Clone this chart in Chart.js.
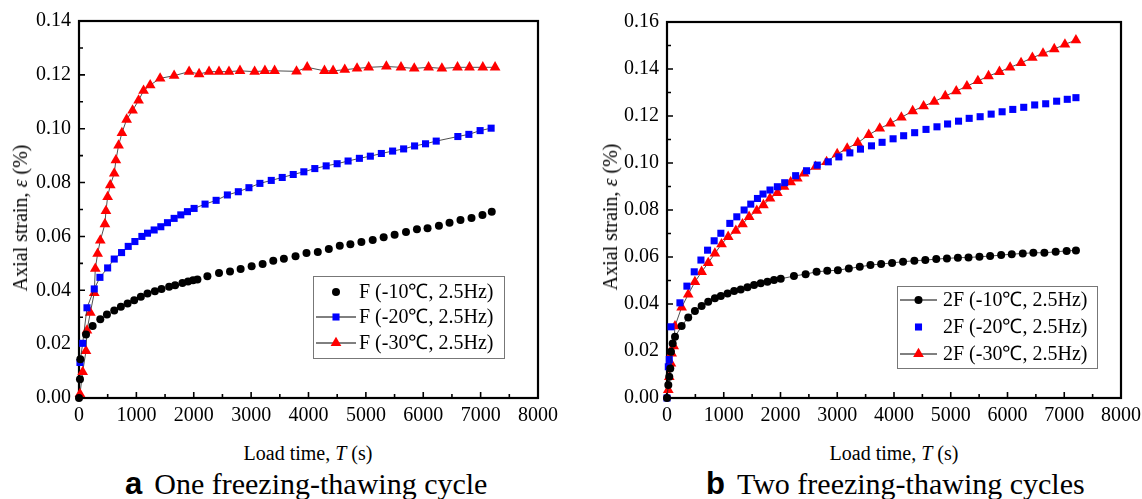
<!DOCTYPE html>
<html>
<head>
<meta charset="utf-8">
<script src="https://cdn.jsdelivr.net/npm/chart.js@4.4.1/dist/chart.umd.min.js"></script>
<style>
  html, body { margin: 0; padding: 0; background: #fff; }
  body { width: 1142px; height: 499px; position: relative; overflow: hidden; font-family: 'Liberation Serif', 'Times New Roman', serif; color: #000; }
  canvas { position: absolute; top: 0; }
  .t { position: absolute; white-space: nowrap; line-height: 1; }
  .xt { font-size: 20px; transform: translate(-50%, -50%); }
  .yt { font-size: 20px; transform: translate(-50%, -50%) rotate(-90deg); }
  .cap { font-size: 30px; }
  .cap b { font-family: 'Liberation Sans', Arial, sans-serif; font-weight: bold; font-size: 31px; margin-right: 12px; }
</style>
</head>
<body>
<canvas id="cA" width="571" height="440" style="left:0px"></canvas>
<canvas id="cB" width="571" height="440" style="left:571px"></canvas>

<div class="t xt" style="left:308px; top:453px;">Load time, <i>T</i> (s)</div>
<div class="t yt" style="left:20px; top:218px;">Axial strain, <i>ε</i> (%)</div>
<div class="t xt" style="left:894px; top:453px;">Load time, <i>T</i> (s)</div>
<div class="t yt" style="left:610px; top:217px;">Axial strain, <i>ε</i> (%)</div>
<div class="t cap" style="left:125px; top:468px;"><b>a</b>One freezing-thawing cycle</div>
<div class="t cap" style="left:706px; top:468px;"><b>b</b>Two freezing-thawing cycles</div>

<script>
// ---------- Tick labels ----------
const xTicks = [0, 1000, 2000, 3000, 4000, 5000, 6000, 7000, 8000];
const yTicksA = [0, 0.02, 0.04, 0.06, 0.08, 0.10, 0.12, 0.14];
const yTicksB = [0, 0.02, 0.04, 0.06, 0.08, 0.10, 0.12, 0.14, 0.16];

// ---------- Chart a: one freezing-thawing cycle ----------
const labelsA = ['F (-10℃, 2.5Hz)', 'F (-20℃, 2.5Hz)', 'F (-30℃, 2.5Hz)'];
const timeA10 = [0, 17, 23, 122, 238, 371, 487, 614, 730, 847, 962, 1078, 1194, 1322, 1438, 1571, 1675, 1803, 1901, 1988, 2064, 2238, 2440, 2632, 2817, 3009, 3200, 3386, 3571, 3774, 3965, 4162, 4354, 4545, 4730, 4922, 5119, 5310, 5501, 5699, 5890, 6075, 6273, 6458, 6649, 6841, 7032, 7194];
const strainA10 = [0, 0.007, 0.0144, 0.0236, 0.0267, 0.0292, 0.031, 0.0325, 0.0339, 0.0351, 0.0363, 0.0376, 0.0388, 0.0396, 0.0405, 0.0413, 0.0419, 0.0427, 0.0433, 0.0437, 0.044, 0.0452, 0.0464, 0.047, 0.0479, 0.0489, 0.0498, 0.051, 0.0517, 0.0526, 0.0538, 0.0542, 0.0553, 0.0565, 0.0571, 0.0579, 0.0587, 0.0597, 0.0606, 0.0616, 0.0627, 0.063, 0.064, 0.0651, 0.0661, 0.0668, 0.068, 0.0692];
const timeA20 = [17, 64, 139, 266, 365, 499, 614, 742, 858, 974, 1096, 1194, 1310, 1426, 1542, 1658, 1774, 1890, 2006, 2197, 2390, 2586, 2777, 2962, 3153, 3351, 3542, 3734, 3919, 4110, 4308, 4499, 4690, 4887, 5078, 5270, 5466, 5658, 5849, 6040, 6226, 6603, 6795, 6991, 7183];
const strainA20 = [0.0132, 0.0203, 0.0335, 0.0405, 0.0448, 0.0483, 0.0516, 0.054, 0.0563, 0.0581, 0.06, 0.0612, 0.0624, 0.0636, 0.0651, 0.0667, 0.068, 0.0692, 0.0704, 0.072, 0.0734, 0.0754, 0.0766, 0.0781, 0.0797, 0.0808, 0.0819, 0.083, 0.084, 0.0852, 0.0862, 0.087, 0.088, 0.089, 0.0898, 0.0908, 0.0917, 0.0925, 0.0936, 0.0944, 0.0954, 0.0971, 0.0979, 0.0993, 0.1002];
const timeA30 = [17, 64, 122, 139, 197, 266, 284, 325, 371, 452, 470, 499, 545, 614, 643, 690, 748, 830, 934, 1038, 1125, 1241, 1414, 1658, 1919, 2093, 2267, 2440, 2614, 2806, 3061, 3240, 3409, 3791, 3977, 4278, 4429, 4632, 4846, 5049, 5357, 5612, 5843, 6093, 6325, 6597, 6806, 7038, 7252];
const strainA30 = [0.0015, 0.0097, 0.0175, 0.0251, 0.0317, 0.039, 0.048, 0.0536, 0.0585, 0.0646, 0.0695, 0.0747, 0.079, 0.0834, 0.0883, 0.0938, 0.0984, 0.1034, 0.1068, 0.1105, 0.1141, 0.1162, 0.1187, 0.1197, 0.1212, 0.1203, 0.1212, 0.1212, 0.1212, 0.1215, 0.1212, 0.1215, 0.1215, 0.1213, 0.1228, 0.1215, 0.1215, 0.1219, 0.1224, 0.1228, 0.1231, 0.1228, 0.1224, 0.1228, 0.1224, 0.1228, 0.1228, 0.1228, 0.1228];

// ---------- Chart b: two freezing-thawing cycles ----------
const labelsB = ['2F (-10℃, 2.5Hz)', '2F (-20℃, 2.5Hz)', '2F (-30℃, 2.5Hz)'];
const timeB10 = [0, 23, 40, 58, 70, 100, 141, 258, 374, 492, 610, 726, 844, 949, 1067, 1183, 1300, 1418, 1534, 1652, 1770, 1886, 2004, 2237, 2443, 2636, 2824, 3011, 3204, 3397, 3585, 3773, 3966, 4160, 4359, 4552, 4745, 4933, 5126, 5313, 5506, 5694, 5888, 6075, 6269, 6456, 6650, 6849, 7042, 7206];
const strainB10 = [0, 0.0055, 0.009, 0.0126, 0.0197, 0.0232, 0.0261, 0.0306, 0.0343, 0.037, 0.0391, 0.041, 0.0424, 0.0434, 0.0445, 0.0455, 0.0462, 0.0471, 0.0481, 0.0488, 0.0495, 0.0502, 0.0507, 0.0519, 0.0527, 0.0537, 0.0541, 0.0544, 0.0551, 0.0558, 0.0566, 0.057, 0.0575, 0.058, 0.0584, 0.0587, 0.0591, 0.0594, 0.0597, 0.0598, 0.0601, 0.0604, 0.0608, 0.0612, 0.0615, 0.0618, 0.0618, 0.0622, 0.0626, 0.0628];
const timeB20 = [0, 23, 40, 70, 228, 351, 480, 598, 715, 831, 949, 1107, 1230, 1359, 1476, 1594, 1692, 1815, 1945, 2074, 2267, 2460, 2648, 2842, 3028, 3222, 3409, 3603, 3790, 3984, 4170, 4364, 4564, 4757, 4944, 5137, 5325, 5518, 5712, 5905, 6093, 6286, 6479, 6673, 6866, 7053, 7206];
const strainB20 = [0, 0.0133, 0.0164, 0.0303, 0.0405, 0.0476, 0.0537, 0.0587, 0.0629, 0.0669, 0.0701, 0.0743, 0.0771, 0.08, 0.0825, 0.0849, 0.0868, 0.0885, 0.0899, 0.0916, 0.0946, 0.0967, 0.0991, 0.1005, 0.1026, 0.1043, 0.1059, 0.1073, 0.1088, 0.1103, 0.1116, 0.1129, 0.1143, 0.1154, 0.1166, 0.1178, 0.119, 0.1197, 0.1208, 0.1218, 0.1228, 0.1237, 0.1247, 0.1252, 0.1263, 0.1271, 0.1278];
const timeB30 = [23, 40, 70, 82, 117, 141, 258, 374, 492, 610, 726, 844, 961, 1078, 1213, 1330, 1447, 1582, 1699, 1815, 1945, 2062, 2179, 2297, 2414, 2619, 2812, 2999, 3175, 3362, 3555, 3749, 3937, 4130, 4329, 4522, 4710, 4903, 5097, 5285, 5478, 5666, 5858, 6046, 6239, 6438, 6626, 6824, 7012, 7206];
const strainB30 = [0.0034, 0.009, 0.0147, 0.019, 0.0221, 0.0306, 0.0386, 0.0441, 0.0494, 0.0537, 0.0575, 0.0615, 0.0655, 0.0686, 0.0712, 0.074, 0.0771, 0.0797, 0.0821, 0.0849, 0.0873, 0.0899, 0.0918, 0.0934, 0.0956, 0.0984, 0.1005, 0.1038, 0.1062, 0.1086, 0.112, 0.1147, 0.1169, 0.1194, 0.1221, 0.1242, 0.1261, 0.1285, 0.1306, 0.1327, 0.1349, 0.137, 0.1388, 0.1407, 0.1426, 0.1448, 0.1466, 0.1485, 0.1505, 0.1523];

const pts = (xs, ys) => xs.map((t, i) => ({ x: t, y: ys[i] }));

const FONT = "'Liberation Serif', 'Times New Roman', serif";
Chart.defaults.font.family = FONT;
Chart.defaults.color = '#000';

// Frame + inward ticks (major + minor)
const frameTicks = {
  id: 'frameTicks',
  beforeDatasetsDraw(chart, args, o) {
    const { ctx, chartArea: a, scales: { x, y } } = chart;
    ctx.save();
    ctx.strokeStyle = '#000';
    ctx.lineWidth = 1.6;
    ctx.beginPath();
    const xs = o.xTicks;
    for (let i = 0; i < xs.length; i++) {
      const px = x.getPixelForValue(xs[i]);
      ctx.moveTo(px, a.bottom); ctx.lineTo(px, a.bottom - 6);
      if (i < xs.length - 1) {
        const pm = x.getPixelForValue((xs[i] + xs[i + 1]) / 2);
        ctx.moveTo(pm, a.bottom); ctx.lineTo(pm, a.bottom - 4);
      }
    }
    const ys = o.yTicks;
    for (let i = 0; i < ys.length; i++) {
      const py = y.getPixelForValue(ys[i]);
      ctx.moveTo(a.left, py); ctx.lineTo(a.left + 6, py);
      if (i < ys.length - 1) {
        const pm = y.getPixelForValue((ys[i] + ys[i + 1]) / 2);
        ctx.moveTo(a.left, pm); ctx.lineTo(a.left + 4, pm);
      }
    }
    ctx.stroke();
    ctx.lineWidth = 2.2;
    ctx.strokeRect(a.left, a.top, a.right - a.left, a.bottom - a.top);
    ctx.restore();
  }
};

function drawMarker(ctx, style, r, x, y, color) {
  ctx.fillStyle = color;
  ctx.beginPath();
  if (style === 'circle') {
    ctx.arc(x, y, r, 0, Math.PI * 2);
  } else if (style === 'rect') {
    const s = Math.SQRT1_2 * r;
    ctx.rect(x - s, y - s, 2 * s, 2 * s);
  } else if (style === 'triangle') {
    ctx.moveTo(x, y - r);
    ctx.lineTo(x + Math.sin(2 * Math.PI / 3) * r, y + r / 2);
    ctx.lineTo(x - Math.sin(2 * Math.PI / 3) * r, y + r / 2);
    ctx.closePath();
  }
  ctx.fill();
}

// Custom boxed legend placed inside the plot
const boxLegend = {
  id: 'boxLegend',
  afterDraw(chart, args, o) {
    const { ctx } = chart;
    ctx.save();
    ctx.fillStyle = '#fff';
    ctx.fillRect(o.x, o.y, o.w, o.h);
    ctx.strokeStyle = '#777';
    ctx.lineWidth = 1;
    ctx.strokeRect(o.x + 0.5, o.y + 0.5, o.w, o.h);
    chart.data.datasets.forEach((ds, i) => {
      const cy = o.rows[i];
      if (ds.showLine) {
        ctx.strokeStyle = '#000';
        ctx.lineWidth = 1;
        ctx.beginPath();
        ctx.moveTo(o.lx0, cy); ctx.lineTo(o.lx1, cy);
        ctx.stroke();
      }
      drawMarker(ctx, ds.pointStyle, ds.pointRadius, (o.lx0 + o.lx1) / 2, cy, ds.pointBackgroundColor);
      ctx.fillStyle = '#000';
      ctx.font = '20px ' + FONT;
      ctx.textBaseline = 'middle';
      ctx.textAlign = 'left';
      ctx.fillText(ds.label, o.tx, cy + 1);
    });
    ctx.restore();
  }
};

function mkDataset(label, xs, ys, style, r, color, line) {
  return {
    label, data: pts(xs, ys), showLine: line,
    borderColor: '#222', borderWidth: 0.8,
    pointStyle: style, pointRadius: r, pointHoverRadius: r,
    pointBackgroundColor: color, pointBorderColor: color, pointBorderWidth: 0,
    clip: false
  };
}

function mkOptions(cfg) {
  return {
    responsive: false, animation: false, devicePixelRatio: 1,
    layout: { padding: { left: 0, right: cfg.padRight, top: cfg.padTop, bottom: 0 } },
    plugins: {
      legend: { display: false }, tooltip: { enabled: false },
      frameTicks: { xTicks: xTicks, yTicks: cfg.yTicks },
      boxLegend: cfg.legend
    },
    scales: {
      x: {
        type: 'linear', min: 0, max: 8000,
        grid: { display: false, drawTicks: false }, border: { display: false },
        afterBuildTicks: s => { s.ticks = xTicks.map(v => ({ value: v })); },
        ticks: { padding: 6, font: { size: 20, family: FONT }, color: '#000', maxRotation: 0, callback: v => String(v) },
        afterFit: s => { s.height = cfg.xHeight; s.paddingLeft = 0; s.paddingRight = 0; }
      },
      y: {
        type: 'linear', min: 0, max: cfg.yMax,
        grid: { display: false, drawTicks: false }, border: { display: false },
        afterBuildTicks: s => { s.ticks = cfg.yTicks.map(v => ({ value: v })); },
        ticks: { padding: 8, font: { size: 20, family: FONT }, color: '#000', callback: v => Number(v).toFixed(2) },
        afterFit: s => { s.width = cfg.yWidth; s.paddingTop = 0; s.paddingBottom = 0; }
      }
    }
  };
}

new Chart(document.getElementById('cA'), {
  type: 'scatter',
  data: {
    datasets: [
      mkDataset(labelsA[0], timeA10, strainA10, 'circle', 4, '#000000', false),
      mkDataset(labelsA[1], timeA20, strainA20, 'rect', 5, '#0000ff', true),
      mkDataset(labelsA[2], timeA30, strainA30, 'triangle', 6.2, '#ff0000', true)
    ]
  },
  options: mkOptions({
    padRight: 33, padTop: 21, xHeight: 42, yWidth: 79, yMax: 0.14, yTicks: yTicksA,
    legend: { x: 313, y: 276, w: 191, h: 82, rows: [292, 317, 343], lx0: 316, lx1: 356, tx: 359 }
  }),
  plugins: [frameTicks, boxLegend]
});

new Chart(document.getElementById('cB'), {
  type: 'scatter',
  data: {
    datasets: [
      mkDataset(labelsB[0], timeB10, strainB10, 'circle', 4, '#000000', true),
      mkDataset(labelsB[1], timeB20, strainB20, 'rect', 5, '#0000ff', false),
      mkDataset(labelsB[2], timeB30, strainB30, 'triangle', 6.2, '#ff0000', true)
    ]
  },
  options: mkOptions({
    padRight: 21, padTop: 22, xHeight: 42, yWidth: 96, yMax: 0.16, yTicks: yTicksB,
    legend: { x: 326, y: 286, w: 200, h: 82, rows: [300, 327, 354], lx0: 329, lx1: 366, tx: 372 }
  }),
  plugins: [frameTicks, boxLegend]
});
</script>
</body>
</html>
